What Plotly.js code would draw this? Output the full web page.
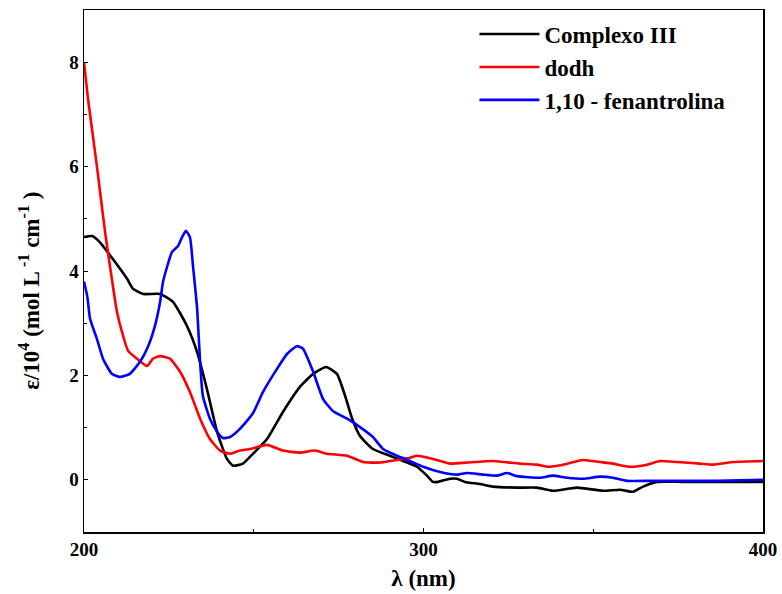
<!DOCTYPE html>
<html><head><meta charset="utf-8">
<script src="https://cdn.plot.ly/plotly-3.0.1.min.js"></script>
<style>body{margin:0;background:#fff}#c{width:782px;height:594px}</style>
</head><body><div id="c"></div>
<script>
const complexoX = [200,202.4,204.7,208.5,212.7,214.4,217.4,222.4,226.2,230.3,233.3,236.2,239.2,242.1,243.9,246.8,249.8,253.9,258.6,263.6,267.5,271.3,274.5,276.9,279,281.3,285.1,290.1,294,298.1,301,302.8,304.3,307.8,309.9,312.2,316.6,320.5,327.5,333.4,338.1,345.2,352.9,357.9,361.7,364.7,368.8,376.4,386.4,400];
const complexoY = [4.65,4.67,4.55,4.23,3.85,3.66,3.56,3.56,3.41,2.95,2.45,1.74,0.92,0.40,0.27,0.31,0.50,0.78,1.30,1.78,2.03,2.16,2.03,1.61,1.17,0.84,0.59,0.46,0.36,0.25,0.08,-0.04,-0.04,0.02,0.02,-0.04,-0.08,-0.13,-0.15,-0.15,-0.21,-0.15,-0.21,-0.19,-0.23,-0.13,-0.04,-0.04,-0.04,-0.04];

const dodhX = [200,201.2,203.8,206.2,208.2,209.7,211.5,213,215.6,218.6,220.3,222.4,225.3,228.3,231.2,234.2,237.1,240.1,243,245.9,248.9,253.9,258.6,263.6,268,271.6,277.5,282.2,287.2,292.2,296,298.1,302.8,307.8,312.8,320.5,328.4,333.4,336.7,341.1,347,352,355.8,360.8,365.8,369.6,374.7,381.4,385.3,391.2,400];
const dodhY = [8.0,7.29,6.01,4.75,3.85,3.22,2.76,2.47,2.32,2.18,2.32,2.37,2.32,2.07,1.68,1.17,0.78,0.56,0.50,0.56,0.59,0.67,0.56,0.52,0.56,0.50,0.46,0.34,0.33,0.38,0.42,0.46,0.40,0.31,0.33,0.36,0.31,0.29,0.25,0.29,0.38,0.34,0.31,0.25,0.29,0.36,0.34,0.31,0.29,0.34,0.36];

const fenX = [200,201,201.8,203.8,205.6,208.2,210.6,213.5,216.5,218.9,220.9,222.4,223.3,225.9,227.7,228.9,230,231.2,232.1,233.3,234.2,235,237.1,239.2,240.9,243,246,249.8,252.7,256.8,259.8,262.7,264.5,267.5,270.4,273.3,277.5,281.3,285.1,288.1,292.2,296,299.9,304.9,309.9,312.8,317.5,321.6,324.6,327.5,334.3,338.1,342.3,347,352,355.8,359.9,366.7,376.4,386.4,400];
const fenY = [3.8,3.5,3.08,2.70,2.32,2.03,1.97,2.03,2.26,2.56,2.95,3.40,3.80,4.36,4.48,4.65,4.77,4.65,4.10,3.30,2.26,1.61,1.17,0.92,0.80,0.82,0.98,1.28,1.68,2.12,2.41,2.56,2.51,2.07,1.55,1.32,1.17,1.01,0.82,0.59,0.46,0.36,0.25,0.15,0.10,0.13,0.10,0.08,0.13,0.07,0.04,0.08,0.04,0.02,0.06,0.04,-0.02,-0.02,-0.02,-0.02,0];

const names = ["Complexo III","dodh","1,10 - fenantrolina"];
const colors = ["#000000","#ff0000","#0000ff"];
const yTitle = "ε/10<sup>4</sup> (mol L<sup> -1</sup> cm<sup>-1</sup> )";
const xTitle = "λ (nm)";

const FAM = "Liberation Serif";
const font = {family:FAM, color:"#000"};
const traces = [[complexoX,complexoY],[dodhX,dodhY],[fenX,fenY]].map((d,i)=>({
  x:d[0], y:d[1], type:"scatter", mode:"lines", name:names[i],
  line:{color:colors[i], width:2.6, shape:"spline", smoothing:0.5}
}));

const layout = {
  width:782, height:594,
  margin:{l:84, r:19, t:10, b:62},
  paper_bgcolor:"#fff", plot_bgcolor:"#fff",
  font:{family:FAM, color:"#000"},
  showlegend:true,
  legend:{x:0.575, y:0.995, xanchor:"left", yanchor:"top", bgcolor:"rgba(0,0,0,0)",
    font:{...font, size:23, weight:"bold"}, itemwidth:60, tracegroupgap:0},
  xaxis:{range:[200,400], dtick:100, tick0:200, showgrid:false, zeroline:false,
    showline:true, linecolor:"#000", linewidth:1.5, mirror:true,
    ticks:"inside", ticklen:4, tickcolor:"#000",
    minor:{dtick:50, ticks:"inside", ticklen:3, tickcolor:"#000"},
    tickfont:{...font, size:19, weight:"bold"},
    title:{text:xTitle, font:{...font, size:23, weight:"bold"}, standoff:10}},
  yaxis:{range:[-1,9], dtick:2, tick0:0, showgrid:false, zeroline:false,
    showline:true, linecolor:"#000", linewidth:1.5, mirror:true,
    ticks:"inside", ticklen:4, tickcolor:"#000", ticklabelstandoff:0,
    minor:{dtick:1, ticks:"inside", ticklen:3, tickcolor:"#000"},
    tickfont:{...font, size:19, weight:"bold"}},
  annotations:[{text:yTitle, textangle:-90, xref:"paper", yref:"paper",
    x:-0.0795, y:0.462, xanchor:"center", yanchor:"middle", showarrow:false,
    font:{...font, size:23, weight:"bold"}}]
};
Plotly.newPlot("c", traces, layout, {displayModeBar:false, staticPlot:true});
</script></body></html>
